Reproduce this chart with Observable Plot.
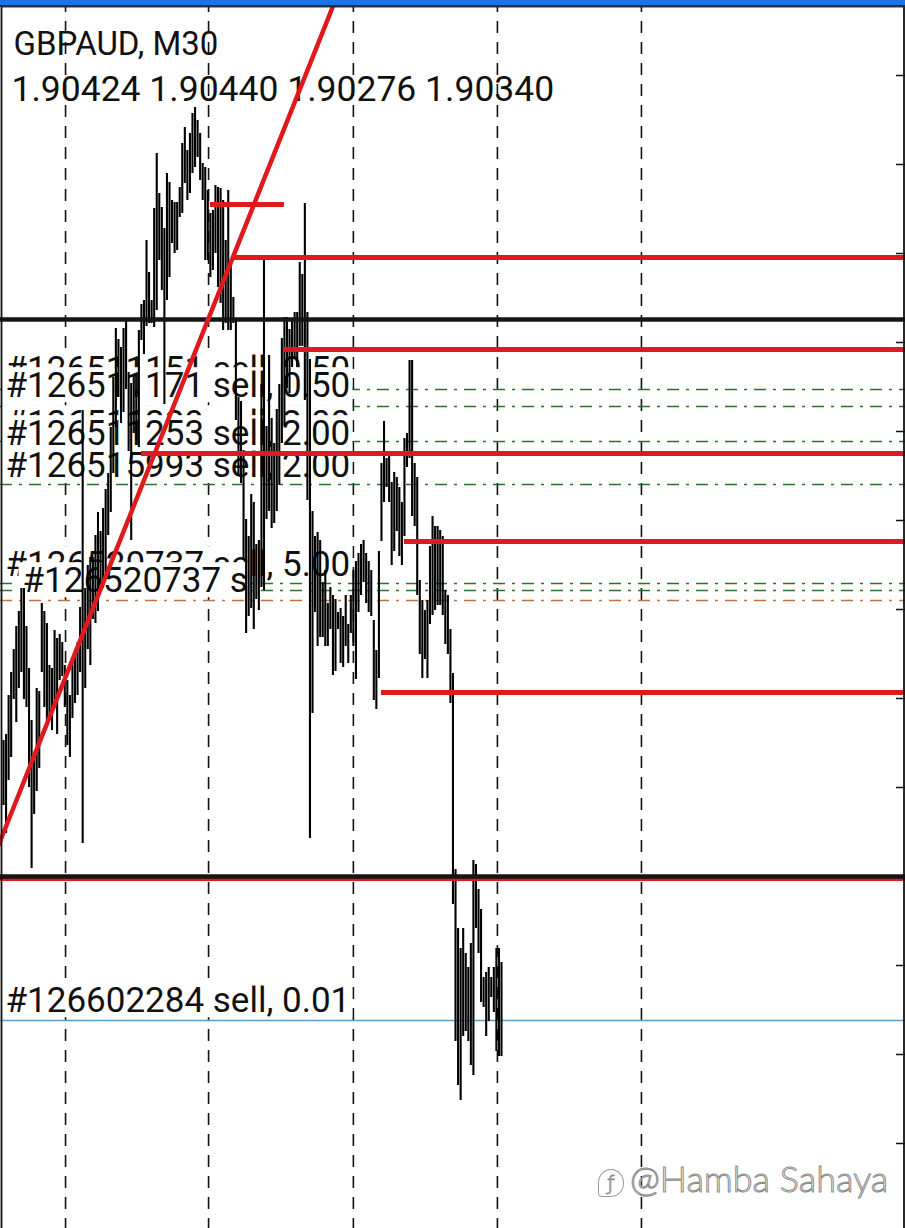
<!DOCTYPE html>
<html><head><meta charset="utf-8">
<script src="https://cdn.jsdelivr.net/npm/d3@7"></script>
<script src="https://cdn.jsdelivr.net/npm/@observablehq/plot@0.6"></script>
<style>
html,body{margin:0;padding:0;background:#fff;}
#wrap{position:relative;width:905px;height:1228px;overflow:hidden;background:#fff;}
#wrap svg{display:block;}
#topbar{position:absolute;left:0;top:0;width:905px;height:5px;background:#1c73e6;border-bottom:2px solid #22303f;}
#wm{position:absolute;left:598px;top:1156px;font-family:Lato;font-weight:300;font-size:36px;color:#fff;-webkit-text-stroke:1px #8c8c8c;white-space:nowrap;}
#wm .ic{display:inline-block;width:24px;height:26px;border:1.5px solid #9a9a9a;border-radius:50% 50% 50% 15%;font-size:22px;line-height:24px;text-align:center;color:#fff;vertical-align:2px;margin-right:6px;-webkit-text-stroke:0.8px #8c8c8c;}
</style></head><body>
<div id="wrap"><div id="topbar"></div><div id="wm"><span class="ic">ƒ</span>@Hamba Sahaya</div></div>
<script>
// ---------- data ----------
const symbolTitle = "GBPAUD, M30";
const ohlcLine = "1.90424 1.90440 1.90276 1.90340";

const barHigh = [
1.90260,1.90266,1.90305,1.90328,1.90351,1.90374,1.90389,1.90412,1.90412,1.90374,
1.90332,1.90280,1.90247,1.90312,1.90309,1.90397,1.90389,1.90377,1.90335,1.90332,
1.90370,1.90362,1.90366,1.90358,1.90335,1.90320,1.90305,1.90339,1.90351,1.90358,
1.90393,1.90590,1.90412,1.90435,1.90443,1.90443,1.90465,1.90488,1.90469,1.90492,
1.90511,1.90527,1.90573,1.90623,1.90672,1.90661,1.90653,1.90672,1.90680,1.90628,
1.90617,1.90624,1.90610,1.90670,1.90696,1.90700,1.90760,1.90728,1.90700,1.90792,
1.90847,1.90807,1.90793,1.90772,1.90827,1.90818,1.90800,1.90798,1.90798,1.90813,
1.90857,1.90873,1.90850,1.90867,1.90887,1.90893,1.90880,1.90867,1.90837,1.90833,
1.90810,1.90787,1.90790,1.90815,1.90813,1.90812,1.90800,1.90760,1.90810,1.90737,
1.90703,1.90680,1.90603,1.90599,1.90550,1.90481,1.90464,1.90506,1.90498,1.90456,
1.90460,1.90616,1.90742,1.90574,1.90645,1.90582,1.90557,1.90591,1.90616,1.90662,
1.90683,1.90683,1.90671,1.90679,1.90688,1.90688,1.90738,1.90726,1.90797,1.90688,
1.90641,1.90489,1.90464,1.90468,1.90460,1.90418,1.90430,1.90397,1.90413,1.90405,
1.90401,1.90388,1.90392,1.90384,1.90405,1.90376,1.90405,1.90430,1.90439,1.90447,
1.90456,1.90460,1.90447,1.90439,1.90430,1.90380,1.90350,1.90449,1.90537,1.90579,
1.90542,1.90547,1.90518,1.90528,1.90523,1.90513,1.90498,1.90562,1.90567,1.90640,
1.90640,1.90537,1.90523,1.90420,1.90400,1.90390,1.90400,1.90454,1.90484,1.90474,
1.90474,1.90470,1.90464,1.90410,1.90405,1.90371,1.90327,1.90131,1.90072,1.90052,
1.90072,1.90047,1.90033,1.90057,1.90140,1.90136,1.90111,1.90091,1.90023,1.90028,
1.90033,1.90023,1.90033,1.90052,1.90052,1.90038];

const barLow = [
1.90195,1.90167,1.90220,1.90243,1.90301,1.90278,1.90312,1.90328,1.90301,1.90293,
1.90213,1.90132,1.90186,1.90209,1.90232,1.90328,1.90293,1.90278,1.90285,1.90270,
1.90297,1.90266,1.90320,1.90324,1.90293,1.90255,1.90243,1.90282,1.90297,1.90305,
1.90328,1.90157,1.90312,1.90351,1.90335,1.90381,1.90377,1.90389,1.90416,1.90412,
1.90427,1.90465,1.90488,1.90527,1.90573,1.90603,1.90577,1.90588,1.90611,1.90549,
1.90460,1.90567,1.90560,1.90553,1.90660,1.90646,1.90674,1.90677,1.90677,1.90673,
1.90690,1.90740,1.90710,1.90596,1.90700,1.90723,1.90757,1.90747,1.90750,1.90783,
1.90787,1.90817,1.90800,1.90807,1.90827,1.90833,1.90843,1.90820,1.90800,1.90740,
1.90740,1.90723,1.90730,1.90747,1.90713,1.90697,1.90670,1.90677,1.90670,1.90670,
1.90677,1.90580,1.90524,1.90517,1.90440,1.90367,1.90384,1.90392,1.90371,1.90401,
1.90390,1.90413,1.90410,1.90481,1.90489,1.90472,1.90477,1.90489,1.90515,1.90557,
1.90574,1.90612,1.90607,1.90633,1.90641,1.90633,1.90654,1.90654,1.90600,1.90500,
1.90162,1.90287,1.90388,1.90354,1.90363,1.90363,1.90354,1.90354,1.90371,1.90325,
1.90329,1.90371,1.90337,1.90333,1.90354,1.90337,1.90367,1.90354,1.90321,1.90388,
1.90405,1.90418,1.90397,1.90388,1.90384,1.90300,1.90291,1.90322,1.90459,1.90498,
1.90513,1.90498,1.90435,1.90449,1.90469,1.90444,1.90435,1.90464,1.90533,1.90542,
1.90484,1.90474,1.90405,1.90346,1.90322,1.90341,1.90322,1.90376,1.90385,1.90390,
1.90395,1.90395,1.90385,1.90356,1.90346,1.90297,1.90096,1.89959,1.89915,1.89900,
1.89964,1.89969,1.89959,1.89935,1.89925,1.90072,1.90047,1.89998,1.89993,1.89964,
1.89979,1.90003,1.89988,1.89949,1.89944,1.89944];

// horizontal levels
const blackLevels = [1.90681, 1.90124];
const redFullLevels = [1.90121];
const redSegPrice = [1.90796, 1.90743, 1.90651, 1.90547, 1.90459, 1.90308];
const redSegStart = [81, 90, 110, 54, 157, 148];
const redSegEnd   = [110, null, null, null, null, null];
const greenOrderLevels = [1.90611, 1.90594, 1.90559, 1.90516, 1.90417, 1.90410];
const orangeOrderLevels = [1.90400];
const blueOrderLevels = [1.89980];

// trend line anchors (bar index, price)
const trendIdx = [-2, 131];
const trendPrice = [1.90155, 1.91007];

// vertical time grid (bar index)
const timeGrid = [24.3, 80.3, 137, 193.4, 249.8];
// right price-scale ticks
const priceTicks = [1.90925,1.90836,1.90747,1.90658,1.90569,1.90480,1.90391,1.90302,1.90213,1.90124,1.90035,1.89946,1.89857];

// order labels (text, price level)
const labelText  = ["#126511151 sell, 0.50","#126511171 sell, 0.50","#126511229 sell, 2.00","#126511253 sell, 2.00","#126515993 sell, 2.00","#126520737 sell, 5.00","#126602284 sell, 0.01"];
const labelPrice = [1.90631, 1.90615, 1.90577, 1.90567, 1.90535, 1.90436, 1.90000];
const label2Text = ["#126520737 s"];
const label2Price = [1.90420];

// ---------- chart ----------
const W = 905, H = 1228;
const N = barHigh.length;
const step = 498 / (N - 1);
const xMin = -3 / step, xMax = (W - 3) / step;
const bars = d3.range(N).map(i => ({i, high: barHigh[i], low: barLow[i]}));
const segs = redSegPrice.map((p, k) => ({p, a: redSegStart[k], b: redSegEnd[k] ?? xMax}));
const trend = trendIdx.map((x, k) => ({x, y: trendPrice[k]}));
const labels = labelText.map((t, k) => ({t, p: labelPrice[k]}));
const labels2 = label2Text.map((t, k) => ({t, p: label2Price[k]}));
const fontLbl = 35;

const chart = Plot.plot({
  width: W, height: H, margin: 0,
  x: {domain: [xMin, xMax], axis: null},
  y: {domain: [1.91 - H / 1e5, 1.91], axis: null},
  style: {background: "#fff", fontFamily: "Roboto, 'Noto Sans', sans-serif"},
  marks: [
    Plot.ruleX(timeGrid, {x: d => d, stroke: "#111", strokeWidth: 1.6, strokeDasharray: "12,9"}),
    Plot.ruleY(greenOrderLevels, {y: d => d, stroke: "#2e6f2e", strokeWidth: 1.6, strokeDasharray: "12,7,3,7"}),
    Plot.ruleY(orangeOrderLevels, {y: d => d, stroke: "#c4703f", strokeWidth: 1.6, strokeDasharray: "12,7,3,7"}),
    Plot.ruleY(blueOrderLevels, {y: d => d, stroke: "#5e9cc4", strokeWidth: 1.6}),
    Plot.text([symbolTitle], {text: d => d, frameAnchor: "top-left", dx: 13, dy: 31, lineAnchor: "top", fontSize: 33, fill: "#111"}),
    Plot.text([ohlcLine], {text: d => d, frameAnchor: "top-left", dx: 11, dy: 75, lineAnchor: "top", fontSize: 35.5, fill: "#111"}),
    Plot.text(labels, {y: "p", text: "t", frameAnchor: "left", dx: 5, fontSize: fontLbl, fill: "#111", textAnchor: "start", lineAnchor: "middle"}),
    Plot.text(labels2, {y: "p", text: "t", frameAnchor: "left", dx: 22, fontSize: fontLbl, fill: "#111", textAnchor: "start", lineAnchor: "middle"}),
    Plot.ruleX(bars, {x: "i", y1: "low", y2: "high", stroke: "#000", strokeWidth: 2.1}),
    Plot.ruleY(redFullLevels, {y: d => d, stroke: "#e0191d", strokeWidth: 3}),
    Plot.ruleY(blackLevels, {y: d => d, stroke: "#151515", strokeWidth: 4.5}),
    Plot.ruleY(segs, {y: "p", x1: "a", x2: "b", stroke: "#e0191d", strokeWidth: 5}),
    Plot.line(trend, {x: "x", y: "y", stroke: "#e0191d", strokeWidth: 4.5, clip: true}),
    Plot.ruleY(priceTicks, {y: d => d, x1: xMax - 9 / step, x2: xMax, stroke: "#111", strokeWidth: 1.5}),
    Plot.frame({stroke: "#111", strokeWidth: 1.8, insetLeft: 1, insetRight: 1.5, insetTop: 6, insetBottom: -10})
  ]
});
const wrap = document.getElementById("wrap");
wrap.insertBefore(chart, wrap.firstChild);

// white backgrounds behind the order labels (in DOM order, so a later label hides an earlier one)
Array.from(chart.querySelectorAll("text"))
  .filter(t => t.textContent.startsWith("#"))
  .forEach(t => {
    const b = t.getBBox();
    const r = document.createElementNS("http://www.w3.org/2000/svg", "rect");
    r.setAttribute("x", b.x - 4);
    r.setAttribute("y", b.y + 2.5);
    r.setAttribute("width", b.width + 6);
    r.setAttribute("height", Math.max(0, b.height - 6));
    r.setAttribute("fill", "#fff");
    r.setAttribute("stroke", "none");
    const tr = t.getAttribute("transform");
    if (tr) r.setAttribute("transform", tr);
    t.parentNode.insertBefore(r, t);
  });
</script>
</body></html>
